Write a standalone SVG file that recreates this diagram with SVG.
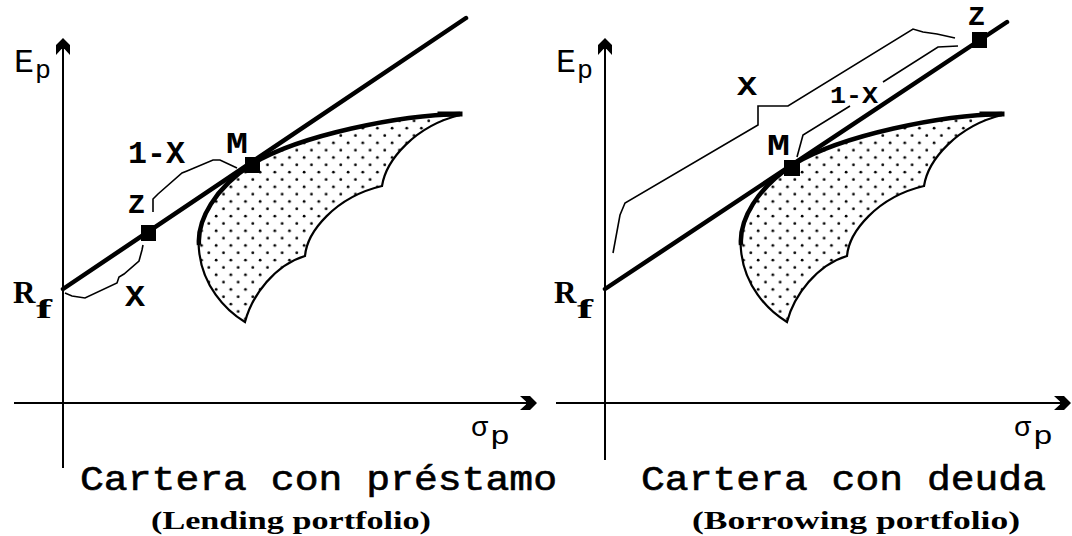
<svg xmlns="http://www.w3.org/2000/svg" xmlns:xlink="http://www.w3.org/1999/xlink" width="1072" height="536" viewBox="0 0 1072 536">
<style>
.axis{stroke:#000;stroke-width:2;fill:none}
.cml{stroke:#000;stroke-width:4.5;stroke-linecap:round;fill:none}
.brk{stroke:#000;stroke-width:1.6;fill:none;stroke-linejoin:miter}
.region{fill:url(#dots);stroke:#000;stroke-width:2.2;stroke-linejoin:miter}
.frontier{fill:none;stroke:#000;stroke-width:4.5}
.pt{fill:#000}
.lbl{font-family:"Liberation Mono",monospace;font-weight:bold;fill:#000}
.ax{font-family:"Liberation Mono",monospace;fill:#000}
.rf{font-family:"Liberation Serif",serif;font-weight:bold;fill:#000}
.title{font-family:"Liberation Mono",monospace;font-size:35px;fill:#000;stroke:#000;stroke-width:0.6}
.sub{font-family:"Liberation Serif",serif;font-weight:bold;font-size:25px;fill:#000}
</style>
<defs>
<pattern id="dots" width="14.66" height="14.66" patternUnits="userSpaceOnUse">
<circle cx="3.6" cy="3.6" r="1.4" fill="#000"/>
<circle cx="10.93" cy="10.93" r="1.4" fill="#000"/>
</pattern>
<path id="ah" d="M0,0 L7,7 L7,17 L1.5,11 L-1.5,11 L-7,17 L-7,7 Z" fill="#000"/>
<g id="set">
<path class="region" d="M245,322 C252,295 275,265 305,256 C307,232 335,197 382,186 C386,160 415,126 460,115 C400,115 300,135 252,164 C215,188 196,220 199,250 C202,285 225,310 245,322 Z"/>
<path class="frontier" d="M199,245 C197,220 215,188 252,164 C300,135 400,115 460,114"/>
<path d="M440,114 L460,114" stroke="#000" stroke-width="5" stroke-linecap="square"/>
</g>
</defs>

<g id="left-panel">
<g id="left-axes">
<line class="axis" x1="63" y1="45" x2="63" y2="468"/>
<use xlink:href="#ah" href="#ah" transform="translate(63,38)"/>
<line class="axis" x1="14" y1="403" x2="530" y2="403"/>
<use xlink:href="#ah" href="#ah" transform="translate(537,403) rotate(90)"/>
<text class="ax" x="14" y="72" font-size="34" textLength="20" lengthAdjust="spacingAndGlyphs">E</text>
<text class="ax" x="35" y="78" font-size="26" textLength="16" lengthAdjust="spacingAndGlyphs">p</text>
<text class="ax" x="471" y="436" font-size="27" textLength="17" lengthAdjust="spacingAndGlyphs">σ</text>
<text class="ax" x="490" y="444" font-size="26" textLength="20" lengthAdjust="spacingAndGlyphs">p</text>
</g>
<g id="left-set"><use xlink:href="#set" href="#set"/></g>
<g id="left-connectors">
<line class="cml" x1="63" y1="289" x2="466" y2="18"/>
<polyline class="brk" points="153,212 153,199 158,194 182,173 187,171 213,160 220,160 237,168"/>
<polyline class="brk" points="65,293 72,296 85,298 117,283 119,277 124,274 139,261 142,250 143,245"/>
</g>
<g id="left-Z"><rect class="pt" x="141" y="225" width="15" height="16"/><text class="lbl" x="128" y="213" font-size="28" textLength="17" lengthAdjust="spacingAndGlyphs">Z</text></g>
<g id="left-M"><rect class="pt" x="245" y="157" width="15" height="16"/><text class="lbl" x="226" y="153" font-size="30" textLength="22" lengthAdjust="spacingAndGlyphs">M</text></g>
<g id="left-Rf"><text class="rf" x="13" y="303" font-size="31">R</text><text class="rf" x="36" y="318" font-size="28" textLength="16" lengthAdjust="spacingAndGlyphs">f</text></g>
<text class="lbl" x="128" y="163" font-size="31" textLength="57" lengthAdjust="spacingAndGlyphs">1-X</text>
<text class="lbl" x="125" y="306" font-size="29" textLength="20" lengthAdjust="spacingAndGlyphs">X</text>
<text class="title" x="80" y="490" textLength="477" lengthAdjust="spacingAndGlyphs">Cartera con préstamo</text>
<text class="sub" x="151" y="529" textLength="280" lengthAdjust="spacingAndGlyphs">(Lending portfolio)</text>
</g>

<g id="right-panel">
<g id="right-axes">
<line class="axis" x1="605" y1="45" x2="605" y2="460"/>
<use xlink:href="#ah" href="#ah" transform="translate(605,38)"/>
<line class="axis" x1="556" y1="403" x2="1064" y2="403"/>
<use xlink:href="#ah" href="#ah" transform="translate(1071,403) rotate(90)"/>
<text class="ax" x="556" y="72" font-size="34" textLength="20" lengthAdjust="spacingAndGlyphs">E</text>
<text class="ax" x="577" y="78" font-size="26" textLength="16" lengthAdjust="spacingAndGlyphs">p</text>
<text class="ax" x="1014" y="436" font-size="27" textLength="17" lengthAdjust="spacingAndGlyphs">σ</text>
<text class="ax" x="1033" y="444" font-size="26" textLength="20" lengthAdjust="spacingAndGlyphs">p</text>
</g>
<g id="right-set"><use xlink:href="#set" href="#set" transform="translate(542,0)"/></g>
<g id="right-connectors">
<line class="cml" x1="605" y1="289" x2="1007" y2="22"/>
<polyline class="brk" points="613,253 620,215 625,203 758,125 758,106 788,106 913,29 923,32 937,34 955,38"/>
<polyline class="brk" points="797,157 803,135 850,106"/>
<polyline class="brk" points="883,82 938,47 958,46"/>
</g>
<g id="right-Z"><rect class="pt" x="972" y="32" width="15" height="16"/><text class="lbl" x="968" y="25" font-size="28" textLength="17" lengthAdjust="spacingAndGlyphs">Z</text></g>
<g id="right-M"><rect class="pt" x="784" y="160" width="16" height="16"/><text class="lbl" x="767" y="155" font-size="30" textLength="23" lengthAdjust="spacingAndGlyphs">M</text></g>
<g id="right-Rf"><text class="rf" x="554" y="303" font-size="31">R</text><text class="rf" x="577" y="318" font-size="28" textLength="16" lengthAdjust="spacingAndGlyphs">f</text></g>
<text class="lbl" x="830" y="103" font-size="23" textLength="48" lengthAdjust="spacingAndGlyphs">1-X</text>
<text class="lbl" x="737" y="95" font-size="27" textLength="20" lengthAdjust="spacingAndGlyphs">X</text>
<text class="title" x="641" y="490" textLength="405" lengthAdjust="spacingAndGlyphs">Cartera con deuda</text>
<text class="sub" x="692" y="529" textLength="328" lengthAdjust="spacingAndGlyphs">(Borrowing portfolio)</text>
</g>
</svg>
